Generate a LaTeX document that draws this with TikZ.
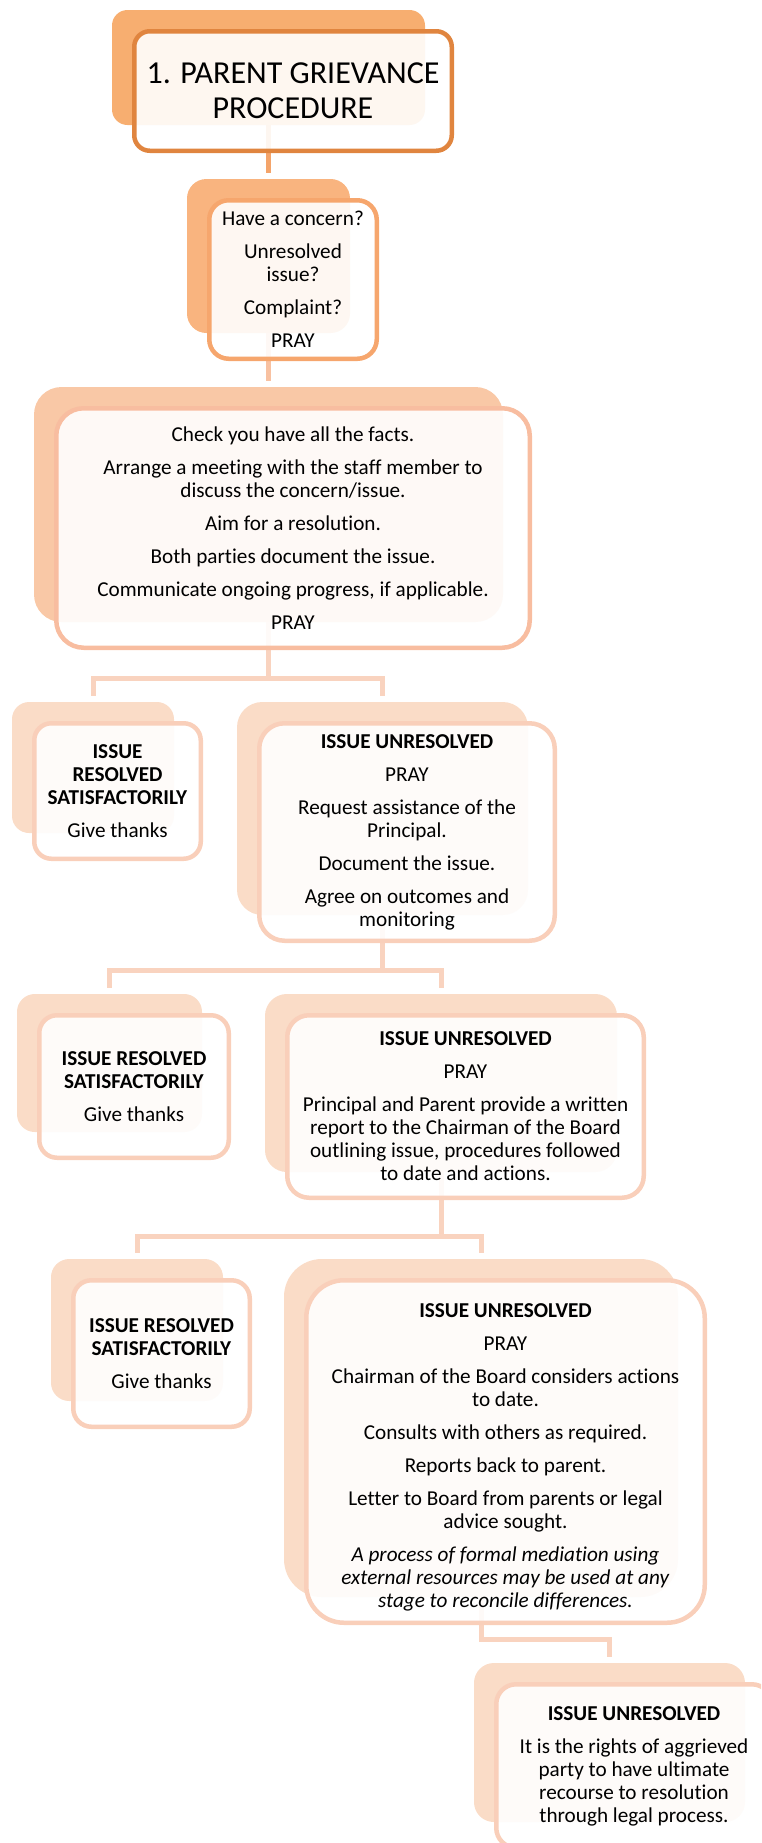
\documentclass[tikz,border=0pt]{standalone}
\usepackage{fontspec}
\setmainfont{Carlito}[Ligatures=CommonOff]
\usetikzlibrary{backgrounds}

\definecolor{lvl1back}{HTML}{F7AE70}
\definecolor{lvl1edge}{HTML}{E0853F}
\definecolor{lvl2back}{HTML}{F9B47F}
\definecolor{lvl2edge}{HTML}{F6A66D}
\definecolor{lvl3back}{HTML}{F9C8A6}
\definecolor{lvl3edge}{HTML}{F8BDA0}
\definecolor{lvl4back}{HTML}{FADCC7}
\definecolor{lvl4edge}{HTML}{F9CFBA}
\definecolor{link1}{HTML}{F4A46A}
\definecolor{link2}{HTML}{F8C1A1}
\definecolor{link3}{HTML}{F9D3BF}

\tikzset{
  backbox/.style={fill=#1back, inner sep=0pt, outer sep=0pt},
  frontbox/.style={draw=#1edge, line width=2.25pt, fill=white, fill opacity=0.9,
    text opacity=1, inner sep=0pt, align=center, font=\fontsize{10.6}{11.5}\selectfont},
  connector/.style={draw=#1, line width=2.5pt, shorten >=3pt},
}

% back card from (x1,y1) to (x2,y2), text card shifted down right
\newcommand{\stepnode}[8][]{%
  \node[backbox=#7, minimum width={(#5-#3)*0.5pt}, minimum height={(#6-#4)*0.5pt},
    rounded corners={(0.1*min(#5-#3,#6-#4)+4)*0.5pt}]
    (#2b) at ({(#3+#5)/2},{(#4+#6)/2}) {};
  \node[frontbox=#7, minimum width={(#5-#3+4.5)*0.5pt}, minimum height={(#6-#4+4.5)*0.5pt},
    rounded corners={(0.1*min(#5-#3,#6-#4)+4)*0.5pt}, #1]
    (#2) at ({(#3+#5)/2+24.5},{(#4+#6)/2+23.5}) {#8};
}

\begin{document}
\begin{tikzpicture}[x=0.5pt, y=-0.5pt]
    \useasboundingbox (0,0) rectangle (761,1843);
    \clip (0,0) rectangle (761,1843);

    \stepnode[font=\fontsize{16}{17.5}\selectfont]{title}{112}{10}{425}{125}{lvl1}
        {1. PARENT GRIEVANCE\\PROCEDURE}
    \stepnode{ask}{187}{179}{350}{333}{lvl2}
        {Have a concern?\\[5pt]Unresolved\\issue?\\[5pt]Complaint?\\[5pt]PRAY}
    \stepnode{meet}{34}{387}{503}{622}{lvl3}
        {Check you have all the facts.\\[5pt]
         Arrange a meeting with the staff member to\\discuss the concern/issue.\\[5pt]
         Aim for a resolution.\\[5pt]
         Both parties document the issue.\\[5pt]
         Communicate ongoing progress, if applicable.\\[5pt]
         PRAY}

    \stepnode{ok1}{12}{702}{174}{833}{lvl4}
        {\textbf{ISSUE}\\\textbf{RESOLVED}\\\textbf{SATISFACTORILY}\\[5pt]Give thanks}
    \stepnode{esc1}{237}{702}{528}{915}{lvl4}
        {\textbf{ISSUE UNRESOLVED}\\[5pt]PRAY\\[5pt]
         Request assistance of the\\Principal.\\[5pt]
         Document the issue.\\[5pt]
         Agree on outcomes and\\monitoring}

    \stepnode{ok2}{17}{994}{202}{1132}{lvl4}
        {\textbf{ISSUE RESOLVED}\\\textbf{SATISFACTORILY}\\[5pt]Give thanks}
    \stepnode{esc2}{265}{994}{617}{1172}{lvl4}
        {\textbf{ISSUE UNRESOLVED}\\[5pt]PRAY\\[5pt]
         Principal and Parent provide a written\\report to the Chairman of the Board\\
         outlining issue, procedures followed\\to date and actions.}

    \stepnode{ok3}{51}{1259}{223}{1401}{lvl4}
        {\textbf{ISSUE RESOLVED}\\\textbf{SATISFACTORILY}\\[5pt]Give thanks}
    \stepnode{esc3}{284}{1259}{678}{1597}{lvl4}
        {\rule{0pt}{13pt}\textbf{ISSUE UNRESOLVED}\\[5pt]PRAY\\[5pt]
         Chairman of the Board considers actions\\to date.\\[5pt]
         Consults with others as required.\\[5pt]
         Reports back to parent.\\[5pt]
         Letter to Board from parents or legal\\advice sought.\\[5pt]
         \textit{A process of formal mediation using}\\
         \textit{external resources may be used at any}\\
         \textit{stage to reconcile differences.}}

    \stepnode{legal}{474}{1663}{745}{1822}{lvl4}
        {\textbf{ISSUE UNRESOLVED}\\[5pt]
         It is the rights of aggrieved\\party to have ultimate\\
         recourse to resolution\\through legal process.}

    % elbow connectors behind the cards
    \begin{scope}[on background layer]
        \coordinate (j3) at (268.5,678);
        \coordinate (j4) at (382.5,970);
        \coordinate (j5) at (441,1236);
        \coordinate (j6) at (481,1639);
        \draw[connector=link1] (titleb) -- (askb);
        \draw[connector=link2] (askb) -- (meetb);
        \draw[connector=link3] (meetb) |- (j3) -| (ok1b);
        \draw[connector=link3] (j3) -| (esc1b);
        \draw[connector=link3] (esc1b) |- (j4) -| (ok2b);
        \draw[connector=link3] (j4) -| (esc2b);
        \draw[connector=link3] (esc2b) |- (j5) -| (ok3b);
        \draw[connector=link3] (j5) -| (esc3b);
        \draw[connector=link3] (esc3b) |- (j6) -| (legalb);
    \end{scope}
\end{tikzpicture}
\end{document}
